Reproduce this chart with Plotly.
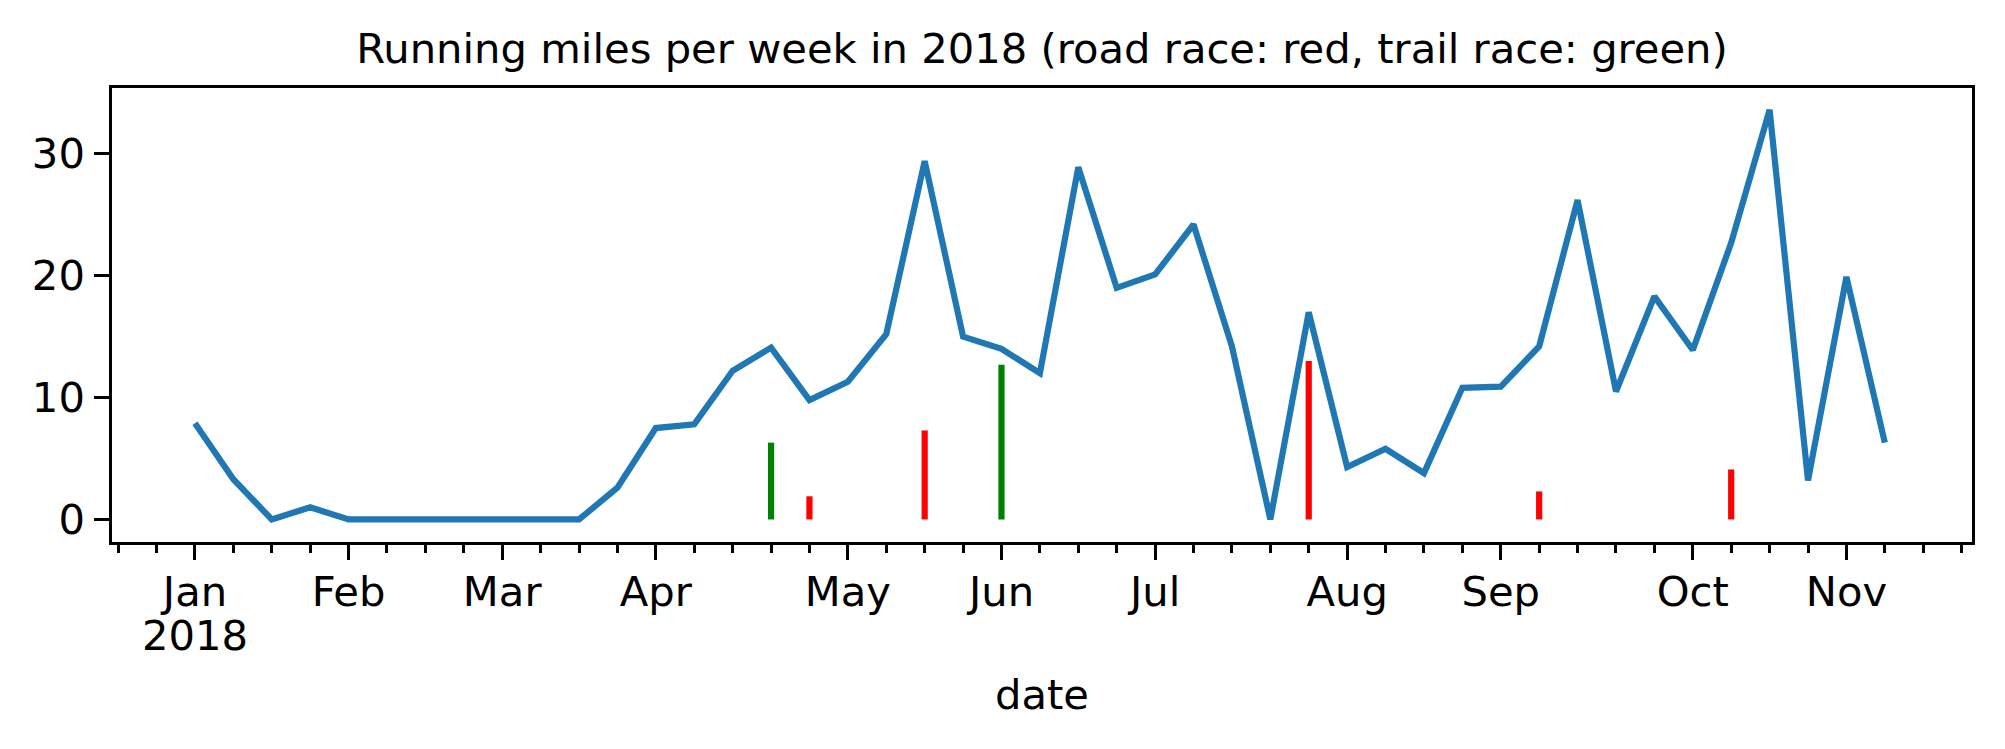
import pandas as pd
import plotly.graph_objects as go

SEASON_START = "2018-01-01"

# miles run in each week (week 0 starts Mon 1 Jan 2018)
WEEKLY_MILES = [
    7.9, 3.3, 0.0, 1.0, 0.0, 0.0, 0.0, 0.0, 0.0, 0.0, 0.0,
    2.6, 7.5, 7.8, 12.2, 14.1, 9.8, 11.3, 15.2, 29.4, 15.0,
    14.0, 12.0, 28.9, 19.0, 20.1, 24.2, 14.2, 0.0, 17.0, 4.3,
    5.8, 3.8, 10.8, 10.9, 14.2, 26.2, 10.5, 18.3, 13.9, 22.7,
    33.6, 3.2, 19.9, 6.3,
]

# races: week index, distance in miles, kind
RACE_WEEKS = [15, 16, 19, 21, 29, 35, 40]
RACE_MILES = [6.3, 1.9, 7.3, 12.7, 13.0, 2.3, 4.1]
RACE_KIND = ["trail", "road", "road", "trail", "road", "road", "road"]
RACE_COLORS = {"road": "red", "trail": "green"}

MONTH_LABELS = ["Jan", "Feb", "Mar", "Apr", "May", "Jun",
                "Jul", "Aug", "Sep", "Oct", "Nov"]
YEAR_LABEL = "2018"
Y_TICKS = [0, 10, 20, 30]

FONT = "DejaVu Sans"
FS = 41.7

start = pd.Timestamp(SEASON_START)
week = pd.Timedelta(days=7)
week_dates = [start + i * week for i in range(len(WEEKLY_MILES))]

# major ticks sit on the week that contains the 1st of each month
month_firsts = pd.date_range(SEASON_START, periods=len(MONTH_LABELS), freq="MS")
month_ticks = [start + ((m - start).days // 7) * week for m in month_firsts]

fig = go.Figure()
fig.add_trace(go.Scatter(
    x=week_dates, y=WEEKLY_MILES, mode="lines",
    line={"color": "#1f77b4", "width": 6.2},
    hoverinfo="x+y",
))

for kind, color in RACE_COLORS.items():
    xs, ys = [], []
    for w, miles, k in zip(RACE_WEEKS, RACE_MILES, RACE_KIND):
        if k != kind:
            continue
        d = start + w * week
        xs += [d, d, None]
        ys += [0, miles, None]
    fig.add_trace(go.Scatter(
        x=xs, y=ys, mode="lines", name=kind,
        line={"color": color, "width": 6.2},
    ))

axis_common = dict(
    showline=True, linewidth=3.3, linecolor="black", mirror=True,
    ticks="outside", ticklen=14.6, tickwidth=3.3, tickcolor="black",
    showgrid=False, zeroline=False,
    tickfont={"family": FONT, "size": FS, "color": "black"},
)

fig.update_layout(
    width=2005,
    height=749,
    margin={"l": 112, "r": 33, "t": 88, "b": 207},
    plot_bgcolor="white",
    paper_bgcolor="white",
    showlegend=False,
    font={"family": FONT, "size": FS, "color": "black"},
    title={
        "text": "Running miles per week in 2018 (road race: red, trail race: green)",
        "x": 0.5, "xref": "paper", "xanchor": "center",
        "y": 1 - 48 / 749, "yref": "container", "yanchor": "middle",
        "font": {"family": FONT, "size": FS, "color": "black"},
    },
    xaxis=dict(
        axis_common,
        type="date",
        range=[start - 2.16 * week, start + 46.27 * week],
        tickvals=month_ticks,
        ticktext=MONTH_LABELS,
        ticklabelstandoff=-4,
        minor=dict(
            dtick=7 * 24 * 3600 * 1000, tick0=SEASON_START,
            ticks="outside", ticklen=8.3, tickwidth=2.5, tickcolor="black",
            showgrid=False,
        ),
    ),
    yaxis=dict(
        axis_common,
        range=[-1.85, 35.4],
        tickvals=Y_TICKS,
        ticklabelstandoff=1,
    ),
    annotations=[
        {
            "text": YEAR_LABEL,
            "xref": "x", "yref": "paper",
            "x": month_ticks[0], "y": -0.206,
            "xanchor": "center", "yanchor": "middle",
            "showarrow": False,
            "font": {"family": FONT, "size": FS, "color": "black"},
        },
        {
            "text": "date",
            "xref": "paper", "yref": "paper",
            "x": 0.5, "y": -0.335,
            "xanchor": "center", "yanchor": "middle",
            "showarrow": False,
            "font": {"family": FONT, "size": FS, "color": "black"},
        },
    ],
)

fig.write_html(
    "out.html",
    config={"displayModeBar": False},
    post_script="document.body.style.margin='0';",
)
